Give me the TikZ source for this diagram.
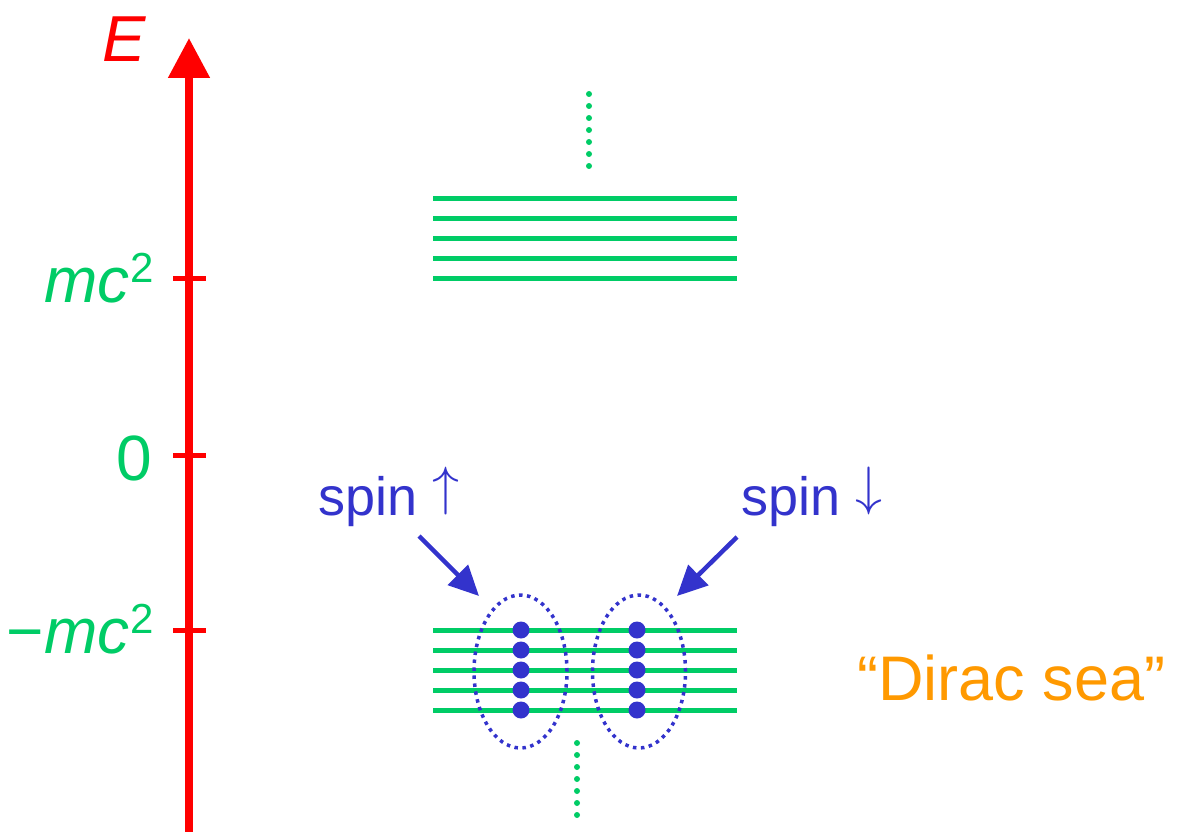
\documentclass[tikz,border=0pt]{standalone}
\usepackage{fix-cm}
\usepackage{fontspec}
\setmainfont{Liberation Sans}
\usetikzlibrary{arrows.meta,shapes.geometric}
\definecolor{axred}{RGB}{255,0,0}
\definecolor{lvgreen}{RGB}{0,204,102}
\definecolor{spblue}{RGB}{51,51,204}
\definecolor{seaorange}{RGB}{255,153,0}
\tikzset{
  axisline/.style={draw=axred, line width=8pt, -{Triangle[width=40pt,length=40pt]}},
  tickline/.style={draw=axred, line width=5pt},
  level/.style={draw=lvgreen, line width=5pt},
  vdots/.style={draw=lvgreen, line width=6pt, line cap=round, dash pattern=on 0pt off 12pt},
  axlabel/.style={text=lvgreen, font=\fontsize{64}{70}\selectfont, inner sep=0pt, anchor=base east},
  spinlabel/.style={text=spblue, font=\fontsize{54}{60}\selectfont, inner sep=0pt, anchor=base west},
  spinarrow/.style={draw=spblue, line width=4.5pt, -{Triangle[width=28pt,length=30pt]}},
  electron/.style={circle, fill=spblue, minimum size=17pt, inner sep=0pt},
  spingroup/.style={ellipse, draw=spblue, line width=3.5pt, dash pattern=on 3.5pt off 4.5pt, minimum width=93pt, minimum height=153pt, inner sep=0pt},
}
\newcommand{\sqtwo}{\kern1pt\raisebox{20pt}{\fontsize{42}{42}\selectfont\upshape 2}}
\begin{document}
\begin{tikzpicture}[x=1pt,y=-1pt]
\useasboundingbox (0,0) rectangle (1180,832);
% axis
\coordinate (axbot) at (189,834);
\coordinate (axtop) at (189,38);
\draw[axisline] (axbot) -- (axtop);
\node[text=axred, font=\fontsize{65}{70}\selectfont\itshape, inner sep=0pt, anchor=base east] (Elab) at (146,62) {E};
% ticks
\foreach \n/\y in {tA/278,tB/455,tC/630}{
  \coordinate (\n l) at (173,\y);
  \coordinate (\n r) at (206,\y);
  \draw[tickline] (\n l) -- (\n r);
}
\node[axlabel] (lmc) at (154,302) {\itshape mc\sqtwo};
\node[axlabel] (lzero) at (152,480) {0};
\node[axlabel] (lmmc) at (154,653) {−\itshape mc\sqtwo};
% upper levels
\foreach \y [count=\i] in {198,218,238,258,278}{
  \coordinate (u\i l) at (433,\y);
  \coordinate (u\i r) at (737,\y);
  \draw[level] (u\i l) -- (u\i r);
}
\coordinate (udA) at (589,94);
\coordinate (udB) at (589,166);
\draw[vdots] (udA) -- (udB);
% lower levels
\foreach \y [count=\i] in {630,650,670,690,710}{
  \coordinate (d\i l) at (433,\y);
  \coordinate (d\i r) at (737,\y);
  \draw[level] (d\i l) -- (d\i r);
}
\coordinate (ddA) at (577,743);
\coordinate (ddB) at (577,815);
\draw[vdots] (ddA) -- (ddB);
% ellipses
\node[spingroup] (eL) at (520.5,671.5) {};
\node[spingroup] (eR) at (639,671.5) {};
% electrons
\foreach \y [count=\i] in {630,650,670,690,710}{
  \node[electron] (eu\i) at (521,\y) {};
  \node[electron] (ed\i) at (637,\y) {};
}
% spin labels
\node[spinlabel] (spinup) at (318,515) {spin \raisebox{0.19em}{$\uparrow$}};
\node[spinlabel] (spindown) at (741,515) {spin \raisebox{0.19em}{$\downarrow$}};
\coordinate (saA) at (419,536);
\coordinate (saB) at (479,596);
\coordinate (sbA) at (737,537);
\coordinate (sbB) at (677,596);
\draw[spinarrow] (saA) -- (saB);
\draw[spinarrow] (sbA) -- (sbB);
% Dirac sea
\node[text=seaorange, font=\fontsize{63}{70}\selectfont, inner sep=0pt, anchor=base west] (sea) at (857,700) {“Dirac sea”};
\end{tikzpicture}
\end{document}
